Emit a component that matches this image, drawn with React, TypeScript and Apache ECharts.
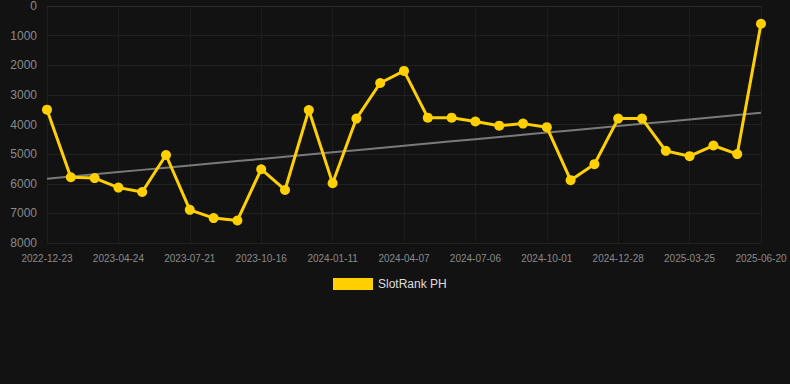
import React, { useEffect, useRef } from "react";
import * as echarts from "echarts";

const categories: string[] = [
  "2022-12-23", "2023-02-02", "2023-03-14",
  "2023-04-24", "2023-05-23", "2023-06-21",
  "2023-07-21", "2023-08-19", "2023-09-17",
  "2023-10-16", "2023-11-14", "2023-12-13",
  "2024-01-11", "2024-02-09", "2024-03-09",
  "2024-04-07", "2024-05-07", "2024-06-06",
  "2024-07-06", "2024-08-04", "2024-09-02",
  "2024-10-01", "2024-10-30", "2024-11-29",
  "2024-12-28", "2025-01-26", "2025-02-24",
  "2025-03-25", "2025-04-23", "2025-05-22",
  "2025-06-20",
];

const rankValues: number[] = [
  3500, 5780, 5810, 6130, 6280, 5030, 6880, 7160, 7240, 5510,
  6210, 3510, 5980, 3800, 2600, 2190, 3770, 3770, 3900, 4040,
  3970, 4090, 5880, 5340, 3800, 3800, 4890, 5070, 4710, 5000,
  600,
];

const seriesName = "SlotRank PH";

function trendLine(vals: number[]): number[] {
  const n = vals.length;
  const mx = (n - 1) / 2;
  const my = vals.reduce((a, b) => a + b, 0) / n;
  let num = 0;
  let den = 0;
  vals.forEach((v, i) => {
    num += (i - mx) * (v - my);
    den += (i - mx) * (i - mx);
  });
  const slope = num / den;
  return vals.map((_, i) => my + slope * (i - mx));
}

export default function App() {
  const ref = useRef<HTMLDivElement>(null);
  useEffect(() => {
    if (!ref.current) return;
    const chart = echarts.init(ref.current, undefined, { renderer: "svg" });
    const trend = trendLine(rankValues);
    chart.setOption({
      animation: false,
      backgroundColor: "#121212",
      grid: { left: 47, right: 29, top: 6, bottom: 141 },
      legend: {
        data: [{ name: seriesName, icon: "rect" }],
        top: 273,
        left: 328,
        itemWidth: 40,
        itemHeight: 12,
        itemGap: 10,
        textStyle: { color: "#dddddd", fontSize: 12, fontFamily: "Arial, Liberation Sans, sans-serif" },
      },
      xAxis: {
        type: "category",
        data: categories,
        boundaryGap: false,
        axisLine: { show: true, lineStyle: { color: "#2a2a2a" } },
        axisTick: { show: false },
        axisLabel: {
          interval: 2,
          color: "#8a8a8a",
          fontSize: 10,
          margin: 10,
          fontFamily: "Arial, Liberation Sans, sans-serif",
        },
        splitLine: { show: true, interval: 2, lineStyle: { color: "#1e1e1e", width: 1 } },
      },
      yAxis: {
        type: "value",
        inverse: true,
        min: 0,
        max: 8000,
        interval: 1000,
        axisLine: { show: false },
        axisTick: { show: false },
        axisLabel: {
          color: "#8a8a8a",
          fontSize: 12,
          margin: 10,
          fontFamily: "Arial, Liberation Sans, sans-serif",
          formatter: (v: number) => String(v),
        },
        splitLine: { show: true, lineStyle: { color: "#212121", width: 1 } },
      },
      series: [
        {
          name: seriesName,
          type: "line",
          data: rankValues,
          symbol: "circle",
          symbolSize: 10,
          lineStyle: { color: "#ffd000", width: 3 },
          itemStyle: { color: "#ffd000" },
          z: 3,
        },
        {
          name: "trend",
          type: "line",
          data: trend,
          symbol: "none",
          lineStyle: { color: "#7a7a7a", width: 2 },
          itemStyle: { color: "#7a7a7a" },
          z: 2,
          silent: true,
        },
      ],
    });
    return () => chart.dispose();
  }, []);
  return (
    <div
      ref={ref}
      style={{ position: "fixed", left: 0, top: 0, width: 790, height: 384 }}
    />
  );
}
